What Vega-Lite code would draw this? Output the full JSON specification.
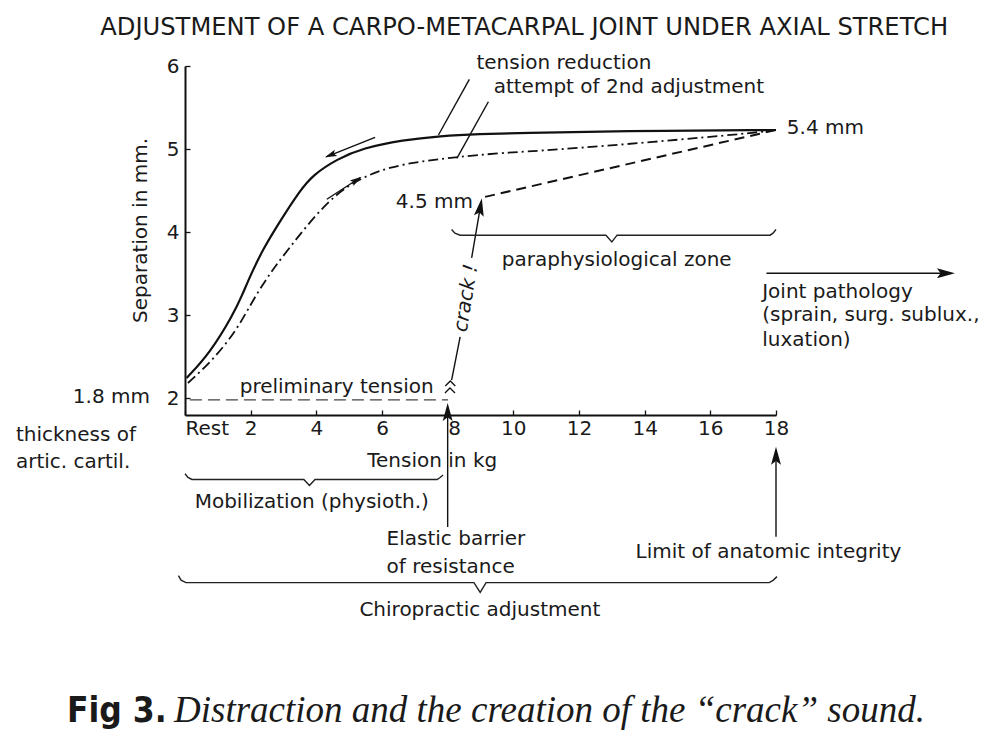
{
  "$schema": "https://vega.github.io/schema/vega-lite/v6.json",
  "width": 591,
  "height": 349,
  "autosize": {"type": "none"},
  "padding": {"left": 185, "top": 66, "right": 224, "bottom": 322},
  "background": "white",
  "config": {
    "view": {"stroke": null},
    "font": "DejaVu Sans",
    "axis": {
      "domainColor": "#111",
      "domainWidth": 2,
      "tickColor": "#111",
      "tickWidth": 1.3,
      "tickSize": -5,
      "grid": false,
      "labelFont": "DejaVu Sans",
      "labelFontSize": 20,
      "labelColor": "#1a1a1a",
      "titleFont": "DejaVu Sans",
      "titleFontSize": 20,
      "titleFontWeight": "normal",
      "titleColor": "#1a1a1a"
    }
  },
  "datasets": {
    "reduction": [
      {"x": 0.05, "y": 2.245}, {"x": 0.76, "y": 2.546}, {"x": 1.46, "y": 3.004}, {"x": 1.74, "y": 3.24},
      {"x": 1.98, "y": 3.47}, {"x": 2.38, "y": 3.8}, {"x": 2.89, "y": 4.13}, {"x": 3.5, "y": 4.5},
      {"x": 3.9, "y": 4.69}, {"x": 4.63, "y": 4.88}, {"x": 5.42, "y": 5.013}, {"x": 6.64, "y": 5.11},
      {"x": 7.77, "y": 5.158}, {"x": 8.98, "y": 5.182}, {"x": 10.2, "y": 5.194}, {"x": 13.25, "y": 5.218},
      {"x": 18.0, "y": 5.23}
    ],
    "attempt": [
      {"x": 0.09, "y": 2.185}, {"x": 0.85, "y": 2.462}, {"x": 1.58, "y": 2.823}, {"x": 2.07, "y": 3.184},
      {"x": 2.59, "y": 3.509}, {"x": 3.2, "y": 3.822}, {"x": 3.9, "y": 4.171}, {"x": 4.63, "y": 4.472},
      {"x": 5.42, "y": 4.664}, {"x": 6.24, "y": 4.785}, {"x": 7.25, "y": 4.857}, {"x": 8.28, "y": 4.905},
      {"x": 9.59, "y": 4.953}, {"x": 11.21, "y": 4.989}, {"x": 14.26, "y": 5.085}, {"x": 17.3, "y": 5.194},
      {"x": 18.0, "y": 5.23}
    ],
    "afterCrack": [
      {"x": 9.14, "y": 4.425}, {"x": 18.0, "y": 5.23}
    ],
    "preliminary": [
      {"x": 0.15, "y": 1.981}, {"x": 8.01, "y": 1.981}
    ],
    "segments": [
      {"x": 8.66, "y": 5.84, "x2": 7.72, "y2": 5.17},
      {"x": 9.24, "y": 5.57, "x2": 8.28, "y2": 4.889},
      {"x": 8.12, "y": 2.221, "x2": 8.38, "y2": 2.739},
      {"x": 8.73, "y": 3.69, "x2": 9.02, "y2": 4.36},
      {"x": 8.0, "y": 0.452, "x2": 8.0, "y2": 1.9},
      {"x": 18.0, "y": 0.336, "x2": 18.0, "y2": 1.38},
      {"x": 17.71, "y": 3.505, "x2": 23.3, "y2": 3.505},
      {"x": 5.79, "y": 5.142, "x2": 4.3, "y2": 4.907},
      {"x": 4.32, "y": 4.396, "x2": 5.34, "y2": 4.658}
    ],
    "braces": [
      {"brace": "para", "x": 8.12, "y": 4.033}, {"brace": "para", "x": 8.22, "y": 3.988}, {"brace": "para", "x": 8.38, "y": 3.964},
      {"brace": "para", "x": 12.82, "y": 3.964}, {"brace": "para", "x": 13.0, "y": 3.883}, {"brace": "para", "x": 13.16, "y": 3.964},
      {"brace": "para", "x": 17.82, "y": 3.964}, {"brace": "para", "x": 17.91, "y": 3.988}, {"brace": "para", "x": 18.0, "y": 4.033},
      {"brace": "mobil", "x": 0.0, "y": 1.093}, {"brace": "mobil", "x": 0.09, "y": 1.048}, {"brace": "mobil", "x": 0.21, "y": 1.024},
      {"brace": "mobil", "x": 3.62, "y": 1.024}, {"brace": "mobil", "x": 3.79, "y": 0.952}, {"brace": "mobil", "x": 3.96, "y": 1.024},
      {"brace": "mobil", "x": 7.68, "y": 1.024}, {"brace": "mobil", "x": 7.77, "y": 1.048}, {"brace": "mobil", "x": 7.86, "y": 1.078},
      {"brace": "chiro", "x": -0.2, "y": -0.133}, {"brace": "chiro", "x": -0.12, "y": -0.187}, {"brace": "chiro", "x": 0.03, "y": -0.217},
      {"brace": "chiro", "x": 8.8, "y": -0.217}, {"brace": "chiro", "x": 8.99, "y": -0.334}, {"brace": "chiro", "x": 9.17, "y": -0.217},
      {"brace": "chiro", "x": 17.79, "y": -0.217}, {"brace": "chiro", "x": 17.91, "y": -0.19}, {"brace": "chiro", "x": 18.03, "y": -0.145}
    ],
    "headsBig": [
      {"x": 9.04, "y": 4.408, "angle": 9.5},
      {"x": 8.0, "y": 1.945, "angle": 0},
      {"x": 18.0, "y": 1.419, "angle": 0},
      {"x": 23.45, "y": 3.505, "angle": 90}
    ],
    "headsSmall": [
      {"x": 4.26, "y": 4.901, "angle": -111.8},
      {"x": 5.38, "y": 4.668, "angle": 57.1}
    ],
    "chevrons": [
      {"x": 8.08, "y": 2.209},
      {"x": 8.07, "y": 2.125}
    ],
    "labelsCenter": [
      {"text": "tension reduction", "x": 11.54, "y": 6.032},
      {"text": "attempt of 2nd adjustment", "x": 13.52, "y": 5.751},
      {"text": "paraphysiological zone", "x": 13.15, "y": 3.665},
      {"text": "preliminary tension", "x": 4.62, "y": 2.141},
      {"text": "Mobilization (physioth.)", "x": 3.86, "y": 0.757},
      {"text": "Limit of anatomic integrity", "x": 17.77, "y": 0.155},
      {"text": "Chiropractic adjustment", "x": 8.98, "y": -0.546}
    ],
    "labelsLeft": [
      {"text": "5.4 mm", "x": 18.33, "y": 5.25},
      {"text": "Joint pathology", "x": 17.58, "y": 3.284},
      {"text": "(sprain, surg. sublux.,", "x": 17.58, "y": 3.004},
      {"text": "luxation)", "x": 17.58, "y": 2.703},
      {"text": "thickness of", "x": -5.15, "y": 1.56},
      {"text": "artic. cartil.", "x": -5.15, "y": 1.238},
      {"text": "Elastic barrier", "x": 6.14, "y": 0.304},
      {"text": "of resistance", "x": 6.14, "y": -0.025}
    ],
    "labelsRight": [
      {"text": "4.5 mm", "x": 8.77, "y": 4.367},
      {"text": "1.8 mm", "x": -1.066, "y": 2.02}
    ],
    "crackLabel": [
      {"text": "crack !", "x": 8.56, "y": 3.208}
    ],
    "heading": [
      {"text": "ADJUSTMENT OF A CARPO-METACARPAL JOINT UNDER AXIAL STRETCH", "x": 10.33, "y": 6.454}
    ],
    "figLabel": [
      {"text": "Fig 3.", "x": -3.594, "y": -1.894}
    ],
    "figCaption": [
      {"text": "Distraction and the creation of the “crack” sound.", "x": -0.335, "y": -1.894}
    ]
  },
  "encoding": {
    "x": {
      "field": "x", "type": "quantitative",
      "scale": {"domain": [0, 18], "nice": false, "zero": false},
      "axis": {
        "values": [0, 2, 4, 6, 8, 10, 12, 14, 16, 18],
        "labelExpr": "datum.value == 0 ? 'Rest' : datum.label",
        "labelAlign": {"condition": {"test": "datum.value == 0 || datum.value == 8", "value": "left"}, "value": "center"},
        "labelFlush": false,
        "labelOverlap": false,
        "labelPadding": 8,
        "title": "Tension in kg",
        "titleX": 246.7,
        "titleY": 45,
        "titleAlign": "center",
        "titleBaseline": "middle"
      }
    },
    "y": {
      "field": "y", "type": "quantitative",
      "scale": {"domain": [1.8, 6], "nice": false, "zero": false},
      "axis": {
        "values": [2, 3, 4, 5, 6],
        "labelFlush": false,
        "labelOverlap": false,
        "labelPadding": 11,
        "title": "Separation in mm.",
        "titleX": -45,
        "titleY": 164,
        "titleAngle": -90,
        "titleAlign": "center",
        "titleBaseline": "middle"
      }
    }
  },
  "layer": [
    {
      "data": {"name": "preliminary"},
      "mark": {"type": "line", "color": "#444", "strokeWidth": 1.3, "strokeDash": [12, 6]}
    },
    {
      "data": {"name": "reduction"},
      "mark": {"type": "line", "color": "#111", "strokeWidth": 2.2, "interpolate": "basis"}
    },
    {
      "data": {"name": "attempt"},
      "mark": {"type": "line", "color": "#111", "strokeWidth": 1.8, "interpolate": "basis", "strokeDash": [10, 4, 2, 4]}
    },
    {
      "data": {"name": "afterCrack"},
      "mark": {"type": "line", "color": "#111", "strokeWidth": 2, "strokeDash": [10, 6]}
    },
    {
      "data": {"name": "segments"},
      "mark": {"type": "rule", "color": "#111", "strokeWidth": 1.4},
      "encoding": {"x2": {"field": "x2"}, "y2": {"field": "y2"}}
    },
    {
      "data": {"name": "braces"},
      "mark": {"type": "line", "color": "#222", "strokeWidth": 1.4},
      "encoding": {"detail": {"field": "brace", "type": "nominal"}}
    },
    {
      "data": {"name": "headsBig"},
      "mark": {"type": "point", "filled": true, "color": "#111", "opacity": 1, "size": 324, "shape": "M0,0L0.55,2L0,1.6L-0.55,2Z"},
      "encoding": {"angle": {"field": "angle", "type": "quantitative", "scale": null}}
    },
    {
      "data": {"name": "headsSmall"},
      "mark": {"type": "point", "filled": true, "color": "#111", "opacity": 1, "size": 144, "shape": "M0,0L0.55,2L0,1.6L-0.55,2Z"},
      "encoding": {"angle": {"field": "angle", "type": "quantitative", "scale": null}}
    },
    {
      "data": {"name": "chevrons"},
      "mark": {"type": "point", "filled": false, "color": "#111", "opacity": 1, "strokeWidth": 1.3, "size": 100, "shape": "M-1,1L0,0L1,1"}
    },
    {
      "data": {"name": "labelsCenter"},
      "mark": {"type": "text", "font": "DejaVu Sans", "fontSize": 20, "color": "#1a1a1a", "align": "center", "baseline": "middle"},
      "encoding": {"text": {"field": "text"}}
    },
    {
      "data": {"name": "labelsLeft"},
      "mark": {"type": "text", "font": "DejaVu Sans", "fontSize": 20, "color": "#1a1a1a", "align": "left", "baseline": "middle"},
      "encoding": {"text": {"field": "text"}}
    },
    {
      "data": {"name": "labelsRight"},
      "mark": {"type": "text", "font": "DejaVu Sans", "fontSize": 20, "color": "#1a1a1a", "align": "right", "baseline": "middle"},
      "encoding": {"text": {"field": "text"}}
    },
    {
      "data": {"name": "crackLabel"},
      "mark": {"type": "text", "font": "DejaVu Sans", "fontSize": 20, "fontStyle": "italic", "color": "#1a1a1a", "align": "center", "baseline": "middle", "angle": -80.6},
      "encoding": {"text": {"field": "text"}}
    },
    {
      "data": {"name": "heading"},
      "mark": {"type": "text", "font": "DejaVu Sans", "fontSize": 24.2, "color": "#1a1a1a", "align": "center", "baseline": "middle"},
      "encoding": {"text": {"field": "text"}}
    },
    {
      "data": {"name": "figLabel"},
      "mark": {"type": "text", "font": "Liberation Sans Narrow, DejaVu Sans Condensed, DejaVu Sans", "fontSize": 35, "fontWeight": "bold", "color": "#1a1a1a", "align": "left", "baseline": "alphabetic"},
      "encoding": {"text": {"field": "text"}}
    },
    {
      "data": {"name": "figCaption"},
      "mark": {"type": "text", "font": "Liberation Serif", "fontSize": 37, "fontStyle": "italic", "color": "#1a1a1a", "align": "left", "baseline": "alphabetic"},
      "encoding": {"text": {"field": "text"}}
    }
  ]
}
